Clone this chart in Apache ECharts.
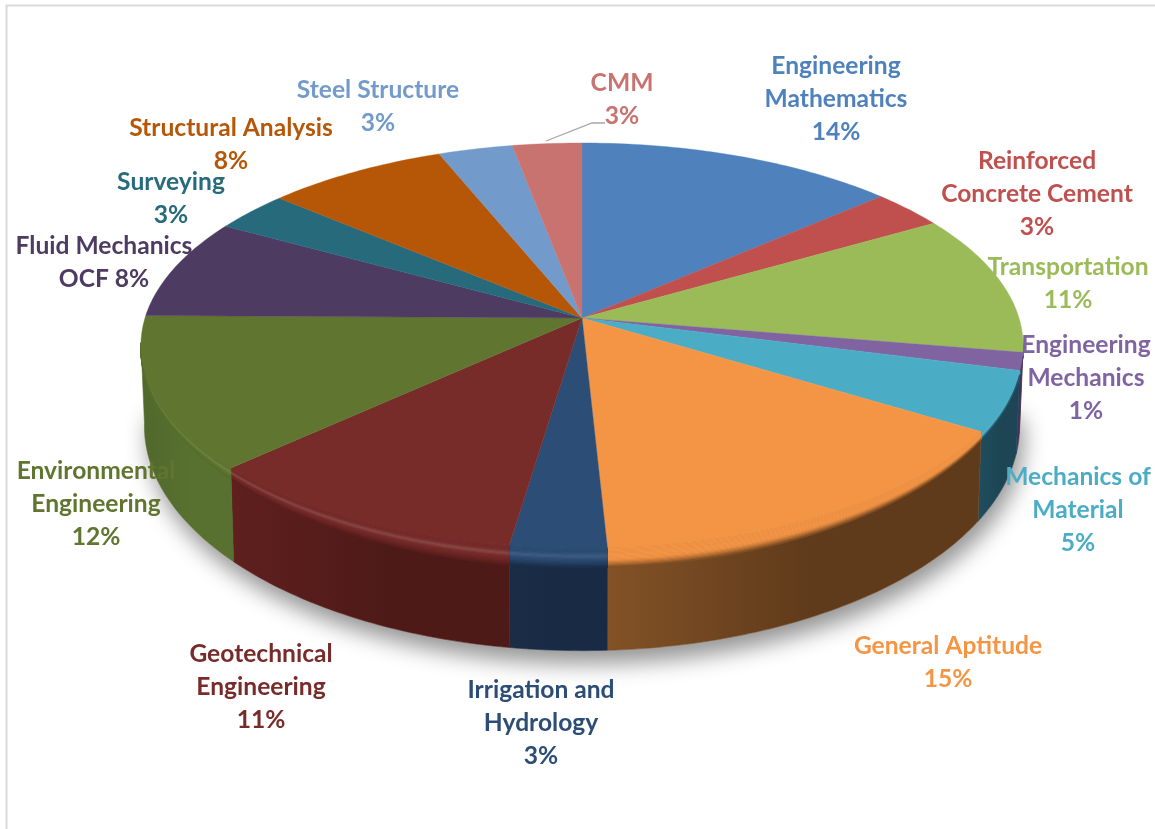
<!DOCTYPE html>
<html><head><meta charset="utf-8">
<style>html,body{margin:0;padding:0;background:#fff}#c{width:1155px;height:829px}</style>
<script src="https://cdn.jsdelivr.net/npm/echarts@6/dist/echarts.min.js"></script>
</head><body><div id="c"></div>
<script>
// ---- data ----
const categories = ['Engineering Mathematics','Reinforced Concrete Cement','Transportation','Engineering Mechanics','Mechanics of Material','General Aptitude','Irrigation and Hydrology','Geotechnical Engineering','Environmental Engineering','Fluid Mechanics OCF','Surveying','Structural Analysis','Steel Structure','CMM'];
const values = [13.4,3.1,11.2,1.4,4.8,15.3,3.1,10.7,12.2,8.0,3.2,7.6,3.1,2.9];
const labelLines = [['Engineering','Mathematics','14%'],['Reinforced','Concrete Cement','3%'],['Transportation','11%'],['Engineering','Mechanics','1%'],['Mechanics of','Material','5%'],['General Aptitude','15%'],['Irrigation and','Hydrology','3%'],['Geotechnical','Engineering','11%'],['Environmental','Engineering','12%'],['Fluid Mechanics','OCF 8%'],['Surveying','3%'],['Structural Analysis','8%'],['Steel Structure','3%'],['CMM','3%']];
// ---- style ----
const topColors = ['#4f81bd','#c0504d','#9bbb59','#8064a2','#4bacc6','#f49545','#2c4d75','#772c2a','#5f7530','#4d3b62','#276a7c','#b65708','#729aca','#c97371'];
const wallLeft  = ['#2f4d71','#73302e','#4f6128','#45305f','#1f4e5f','#835226','#1a2d47','#5f201e','#50682b','#2e2340','#173f4a','#6d3405','#445c79','#784544'];
const wallRight = ['#2f4d71','#73302e','#4f6128','#45305f','#1d4553','#5f3a1b','#182a44','#4e1a18','#587130','#2e2340','#173f4a','#6d3405','#445c79','#784544'];
const highlightMix = [.1,.1,.1,.1,.1,.02,.1,.14,.12,.1,.1,.05,.1,.1];
const labelAnchor = [[836,66],[1037,161],[1068,267],[1086,345],[1078,477],[948,646],[541,690],[261,654],[96,471],[104,246],[171,182],[231,128],[378,90],[622,83]];
const labelFont = 'bold 24.6px Lato, "Open Sans", sans-serif';
const LINE = 32.8;
// perspective disc geometry
const CX = 582, CY = 318, RX = 437, RY = 198.8, K = 0.1358, DEPTH = 78, SHRINK = 0.992;

function proj(deg, dropFn, s){
  const t = deg*Math.PI/180, u = Math.sin(t), v = -Math.cos(t), d = 1-K*v;
  const sc = s===undefined?1:s;
  return [CX + sc*RX*u/d, CY + sc*RY*v/d + (dropFn?dropFn(v,d):0)];
}
function arc(a,b,dropFn,s){
  const n = Math.max(2,Math.ceil(Math.abs(b-a)/1)), p=[];
  for(let i=0;i<=n;i++) p.push(proj(a+(b-a)*i/n,dropFn,s));
  return p;
}
const wallDrop = (v,d)=>DEPTH/(d*d);
const bevelWidth = v=>{const w=Math.max(v,0);return 4+16*w*w;};
const totalV = values.reduce((a,b)=>a+b,0);
function span(i){
  let s=0; for(let j=0;j<i;j++) s+=values[j];
  return [s/totalV*360,(s+values[i])/totalV*360];
}
function hexMix(a,b,t){
  const rgb=c=>c[0]==='#'?[1,3,5].map(k=>parseInt(c.substr(k,2),16)):c.match(/\d+/g).map(Number);
  const pa=rgb(a), pb=rgb(b);
  return 'rgb('+pa.map((x,k)=>Math.round(x+(pb[k]-x)*t)).join(',')+')';
}
// colour across the bevel: top colour, soft highlight, then fade into the wall
function bevelColor(f,t,h,w){
  if(f<.25) return t;
  if(f<.42) return hexMix(t,h,(f-.25)/.17);
  if(f<.58) return hexMix(h,t,(f-.42)/.16);
  return hexMix(t,w,Math.pow((f-.58)/.42,1.3));
}
const BEVEL_STEPS = 16;
function renderWall(params, api){
  const i = api.value(0), [a0,b0] = span(i);
  const a = Math.max(a0,97), b = Math.min(b0,263);
  if(b<=a) return {type:'group',children:[]};
  const poly=(f0,f1,s1,fill,stroke)=>({type:'polygon',silent:true,shape:{points:arc(a,b,f0,1).concat(arc(b,a,f1,s1))},style:{fill,stroke,lineWidth:0.6}});
  const grad = new echarts.graphic.LinearGradient(0,0,1,0,[{offset:0,color:wallLeft[i]},{offset:0.55,color:wallRight[i]},{offset:1,color:wallRight[i]}]);
  const children=[poly(null,wallDrop,SHRINK,grad,hexMix(wallLeft[i],wallRight[i],.5))];
  const t=topColors[i], h=hexMix(t,'#ffffff',highlightMix[i]), w=hexMix(wallLeft[i],wallRight[i],.4);
  for(let s=0;s<BEVEL_STEPS;s++){
    const f0=s/BEVEL_STEPS, f1=(s+1)/BEVEL_STEPS, c=bevelColor((f0+f1)/2,t,h,w);
    children.push(poly(v=>f0*bevelWidth(v),v=>f1*bevelWidth(v),1,c,c));
  }
  return {type:'group',children};
}
function renderTop(params, api){
  const i = api.value(0), [a,b] = span(i);
  const pts=[[CX,CY]].concat(arc(a,b));
  return {type:'polygon',silent:true,shape:{points:pts},style:{fill:topColors[i],stroke:topColors[i],lineWidth:0.4}};
}
function renderLabel(params, api){
  const i = api.value(0), [x,y] = labelAnchor[i];
  return {type:'group',children:labelLines[i].map((t,k)=>({type:'text',silent:true,style:{text:t,x,y:y+k*LINE,align:'center',verticalAlign:'middle',font:labelFont,fill:topColors[i]}}))};
}
function renderShadow(){
  return {type:'polygon',silent:true,shape:{points:arc(92,268,wallDrop,SHRINK)},style:{fill:'#ffffff',shadowBlur:22,shadowOffsetY:13,shadowOffsetX:4,shadowColor:'rgba(0,0,0,0.42)'}};
}
const seriesData = values.map((v,i)=>({name:categories[i],value:[i,v]}));
const chart = echarts.init(document.getElementById('c'),null,{renderer:'canvas'});
chart.setOption({
  animation:false,
  backgroundColor:'#ffffff',
  tooltip:{show:false},
  graphic:[
    {type:'polyline',z:1,silent:true,shape:{points:[[6.5,829],[6.5,5.5],[1155,5.5]]},style:{stroke:'#d9d9d9',lineWidth:2,fill:null}},
    {type:'polyline',z:100,silent:true,shape:{points:[[546,141],[592,123],[605,123]]},style:{stroke:'#a6a6a6',lineWidth:1.3,fill:null}}
  ],
  series:[
    {type:'custom',name:'shadow',z:2,coordinateSystem:'none',renderItem:renderShadow,data:[[0,0]]},
    {type:'custom',name:'walls',z:3,coordinateSystem:'none',renderItem:renderWall,data:seriesData},
    {type:'custom',name:'tops',z:4,coordinateSystem:'none',renderItem:renderTop,data:seriesData},
    {type:'custom',name:'labels',z:5,coordinateSystem:'none',renderItem:renderLabel,data:seriesData}
  ]
});
</script></body></html>
